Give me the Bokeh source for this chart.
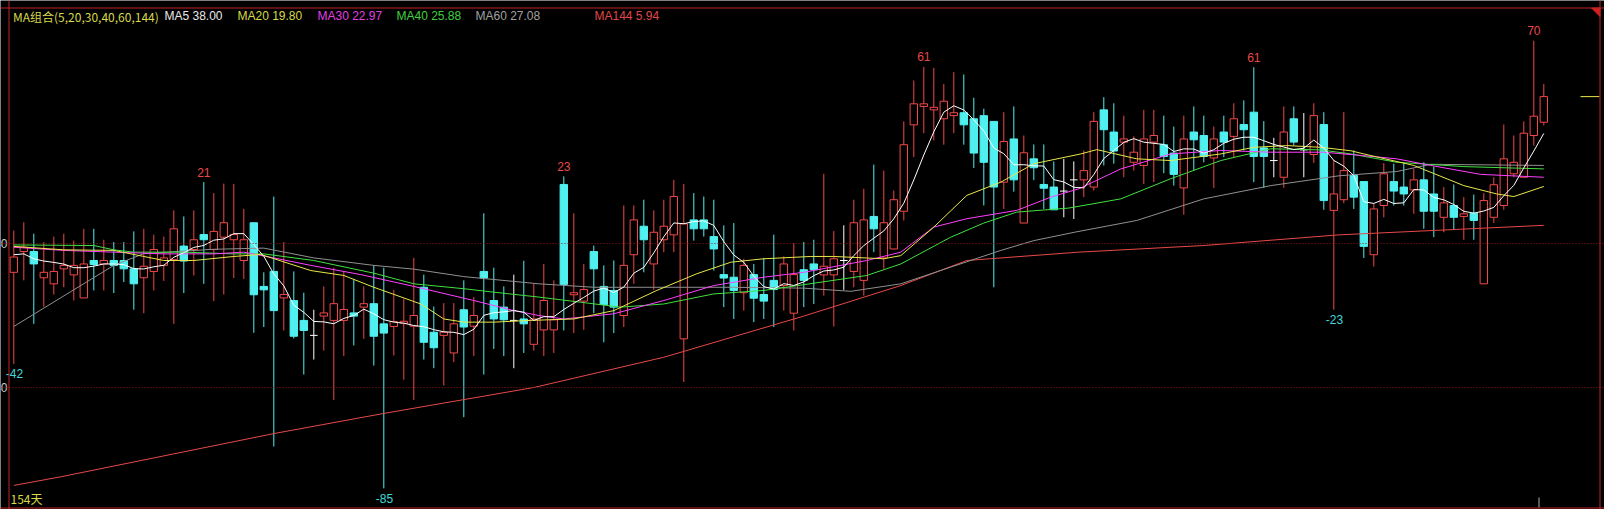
import numpy as np
from bokeh.plotting import figure
from bokeh.models import Range1d, Span, ColumnDataSource
from bokeh.core.properties import value
from bokeh.embed import file_html
from bokeh.resources import INLINE

# ---------------- data ----------------
opens = [-10, -2.8, -2.8, -11.9, -14, -8.8, -10.9, -18.9, -5.9, -7.1,
         -5.9, -5.9, -8.8, -11.9, -9.7, -7.6, -5.6, -0.9, -2.1, 3.1,
         -2.1, 2.2, 1.3, -5.9, 7.2, -14.9, -9.7, -18.9, -19.8, -26.7,
         -31.9, -25.2, -26.7, -26.7, -24.1, -22.1, -20.9, -27.9, -28.8, -27.7,
         -28.7, -15.2, -30.8, -31.9, -38, -23, -28.7, -9.7, -19.8, -22.1,
         -26.7, -26.2, -35, -30, -30, 20.5, -17.8, -20, -2.8, -14.9,
         -16.3, -25, -3.9, 6, -7.1, 1.3, 3, -33.1, 8.2, 8.2,
         2.4, -10.8, -11.7, -17.1, -10.8, -17.7, -12.8, -14.6, -24.2, -9.1,
         -7.1, -10.9, -10.9, -5.9, -9.7, -12.8, 9.4, -5, -1.9, 11.2,
         41.2, 47.6, 46.4, 43.3, 44.4, 45.4, 43.3, 44.4, 42.4, 21.3,
         36.3, 7.1, 29.4, 20.5, 19.6, 18.2, 22.1, 22.1, 19.6, 46.4,
         38.7, 35.2, 28.2, 27.1, 35.2, 34.3, 31.4, 19.3, 38.7, 37.5,
         29.7, 38.7, 37.2, 41.3, 45.6, 33.2, 28.8, 23, 43.3, 32.5,
         30.9, 41.3, 11.5, 15.2, 23.6, 21.5, -3.9, 13.2, 21.5, 19.6,
         18.6, 22.1, 17.2, 9.1, 13.2, 9.4, 10.5, -14, 9.1, 13.2,
         24.2, 23, 37.5, 42.1]
highs = [4.5, 7.4, 3.4, 0.5, 2.4, 3.4, 1, 5.1, 5.1, 1.3,
         0.5, 0.5, 4.2, 5.1, 3.1, 2.4, 11.5, 9.4, 11.5, 21.3,
         17.5, 20.8, 20.7, 12, 7.2, -10, 16.3, 0.5, -9.7, -17.1,
         -23, -14.9, -8.4, -9.7, -12.3, -14.9, -7.6, -8.4, -16.1, -19.2,
         -5, -10.8, -21.9, -20.7, -20.7, -12.8, -18.6, 10.5, -8.4, -14.9,
         -10.8, -6, -14, -7.1, -12.8, 23.3, 10.5, -7.1, -0.7, -7.6,
         -5.9, 13.2, 13.2, 15.2, 11.5, 15.2, 22.1, 20.7, 17.5, 16.3,
         15.2, 6.3, 7.1, -5.3, -7.1, -5, 3.1, -4.5, 0.2, 0.5,
         1.3, 24.2, 4.3, 6.3, 15.2, 19, 27.4, 25.3, 18.4, 42.4,
         56.6, 61.3, 61, 55.4, 59.5, 58.7, 50.6, 46.8, 42.4, 45.6,
         47.6, 37.5, 34.4, 34.4, 28.5, 29.4, 28.5, 32.3, 45.6, 50.8,
         48.7, 44.4, 37.2, 46.4, 46.4, 44.4, 40.6, 44.4, 47.6, 44.4,
         40.6, 44.4, 48.7, 49.7, 61.2, 42.5, 36.7, 47.6, 47.6, 45.3,
         48.7, 45.6, 29, 45.6, 32.3, 21.5, 14, 27.9, 27.7, 27.9,
         25.9, 28.2, 26.7, 19.6, 20.5, 16.1, 17, 17.5, 23, 41.3,
         37.5, 42.4, 70.4, 55.4]
lows = [-41.8, -12.8, -27.9, -22, -17.7, -15.2, -19.8, -18.9, -16.3, -16.3,
        -17.2, -13.4, -23, -24.2, -16.3, -13, -27.9, -17.2, -11.1, -14,
        -20, -17.7, -12, -12.3, -31, -29, -70.5, -30.2, -33, -45.5,
        -40.3, -37.2, -54.3, -39.1, -35.4, -33.1, -42.4, -85, -38.9, -47.3,
        -54.3, -40.3, -43.3, -49.3, -41.2, -60.3, -39.1, -45.5, -36.6, -39.1,
        -43.3, -38, -37.2, -39.1, -38, -30.2, -31.1, -30, -24.2, -34.3,
        -31.1, -29, -14, -10, -16.1, -3, -3, -48.1, 1, 2.4,
        -9.4, -22.1, -26.2, -23.3, -27.3, -26.2, -29, -23.3, -30.2, -22.1,
        -21, -18.1, -28.8, -16.1, -15.2, -18.1, -3, -8.8, -1.9, 8,
        30, 38.3, 35.8, 34.3, 38.3, 34.3, 26.2, 13.2, -15.2, 12,
        18, 7.1, 22, 12, 11.7, 9.1, 8.5, 16.1, 18.4, 27.1,
        27.7, 23, 25.3, 20.7, 21.3, 24.4, 20.1, 10, 25.3, 28.2,
        19.3, 30, 30, 32.3, 21.3, 19.3, 23, 19.3, 34, 23,
        28, 11.7, -23, 14, 12, -5, -8, 9.1, 13.2, 13.2,
        10.3, 5.1, 2.2, 3.9, 4.7, 1.3, 1.3, -14, 7.1, 11.7,
        23, 23, 34, 41]
closes = [-4.7, -1.3, -7.1, -10, -9.7, -7.6, -7.6, -7.1, -7.3, -5.9,
          -7.6, -8.8, -14, -7.9, -2.1, -5, 5.1, -6.1, 1.3, 1.3,
          4.2, 7.2, 3.1, 1.3, -17.8, -16.1, -23.3, -17.7, -32.2, -30.2,
          -31.9, -24.1, -20.9, -22.9, -25.2, -20.9, -32.2, -31.1, -27.1, -27,
          -25, -34.3, -36.2, -30.8, -27.9, -29, -25, -12, -26.2, -26.5,
          -26.7, -27.9, -26.2, -19.8, -26.5, -14.2, -17.1, -16, -8.8, -21.2,
          -22.1, -7.6, 8.2, 1.3, 3.9, 6, 16.3, 6.8, 5.1, 5.1,
          -1.9, -12, -16.3, -7.6, -19, -20, -16, -7.1, -10.8, -12.8,
          -9.1, -7.9, -5.3, -5.9, 7.2, 8.2, 5.1, 7.2, 15.2, 34.3,
          48.5, 48.5, 47.3, 49.4, 45.4, 41.2, 31.4, 28.2, 19.6, 35.4,
          22.1, 31.5, 26.3, 19.2, 11.7, 18.2, 22.1, 25.3, 42.4, 39.5,
          32.1, 36.3, 31.7, 36.3, 37.5, 30.2, 24, 36.3, 36, 30.2,
          36.3, 35.2, 43.3, 39.5, 30.2, 30.2, 28.8, 38.7, 35.2, 32.5,
          44.4, 14.9, 17.2, 25.3, 16.1, -1, 12, 24.2, 18.2, 17.2,
          22.1, 11.2, 11.2, 14.1, 9.1, 10.3, 8, 14.9, 20.4, 29.4,
          28.2, 38.3, 44.2, 51]

# MA5: first four values, the rest is the 5-day mean of the closes
ma5_head = [-3.9, -3.6, -5.3, -6.1]

# longer moving averages, read at sample bars
ma20_i = [0, 5, 10, 13, 15, 18, 22, 24.7, 29.7, 33, 36, 40.7, 43, 45, 48, 51.7, 56, 60, 64.3, 68.3,
          71.7, 75, 79.7, 82, 87, 88.7, 92, 95.3, 98.7, 102, 106.7, 108.3, 112.3, 115.7, 120.7, 124,
          127.3, 130.7, 133.7, 135, 140, 145, 148.3, 150, 153]
ma20_v = [-1, -2.2, -2.4, -4.5, -5.9, -5.9, -4.5, -3.8, -9.4, -11.1, -15.2, -21, -26.2, -27.3, -27.3,
          -26.7, -26.2, -23.3, -16.3, -10.5, -6.5, -5.3, -4.5, -4.5, -5.3, -4.2, 5.7, 16.7, 21.3, 27.7,
          31.1, 32.6, 29.4, 28.8, 31.1, 33.4, 34, 33.4, 32.2, 31.1, 27.1, 20.1, 17.2, 16.3, 19.8]
ma30_i = [0, 5, 10, 15, 20, 23, 26, 29.7, 34.7, 40, 46, 50, 52.5, 55, 60, 65, 70, 75, 79, 85.3,
          88.7, 92, 95.3, 100.3, 103.7, 106.5, 110.7, 115.7, 120.7, 125.7, 131, 135, 138.3, 141.7,
          146.7, 153]
ma30_v = [-1.3, -2.4, -3, -3.6, -3.6, -3, -5, -7.6, -10.8, -14.9, -19.8, -23.3, -25, -26.2, -24.4,
          -19.8, -14.6, -11.7, -10, -5.9, -3, 5.7, 8.6, 11.5, 16.1, 19, 25.9, 31.1, 32.3, 31.7, 31.7,
          30.5, 29.4, 27.1, 24, 23]
ma40_i = [0, 8, 10, 12, 17, 22, 25, 30, 36, 40, 45, 48, 52.5, 56.7, 60.7, 65, 70, 75, 79, 85.3,
          88.7, 93.7, 97, 100.3, 105.5, 110.7, 115.7, 120.7, 125.7, 130.7, 133.7, 138.3, 145, 153]
ma40_v = [-0.5, -0.7, -2.2, -3, -3, -3.6, -3.6, -5.9, -10.3, -14, -15.7, -16.9, -18.6, -20.4, -22.1,
          -21, -17.5, -16.3, -14.3, -11.1, -7.1, 2.2, 7.1, 10.9, 12.3, 15.5, 22.5, 28.8, 32.9, 32.5,
          31.1, 28.2, 26.7, 25.9]
ma60_i = [0, 10, 13, 20, 25, 30, 36, 40, 45, 52.5, 58, 65, 72, 79, 83.7, 88.7, 93.7, 98.7, 102,
          106.2, 112.3, 119, 125.7, 132.5, 138.3, 141.7, 153]
ma60_v = [-28.8, -7.6, -3.5, -2, -1.6, -5, -7.6, -8.9, -11.5, -14, -15.2, -15.2, -15.2, -15.5, -16.6,
          -14, -8.2, -2.4, 1, 4, 8, 15.5, 20.1, 23.5, 25, 27.5, 27.1]
ma144_i = [0, 4.7, 26, 37, 52, 65, 79, 88.7, 95.3, 106.5, 119, 132.5, 153]
ma144_v = [-84, -81, -66, -59, -50, -39.5, -25.2, -14.6, -5.9, -3, -0.7, 3, 6.3]

legend_texts = ["MA组合(5,20,30,40,60,144)", "MA5 38.00", "MA20 19.80", "MA30 22.97",
                "MA40 25.88", "MA60 27.08", "MA144 5.94"]
legend_colors = ["#d8d848", "#e8e8e8", "#d8d848", "#e040e0", "#40d040", "#a0a0a0", "#e04848"]
legend_px = [12.5, 164, 237, 317, 396, 475, 594]

hi_label_idx = [19, 55, 91, 124, 152]
lo_label_idx = [0, 37, 132]
days_text = "154天"
grid_levels = [0, -50]
grid_tick_text = ["0", "0"]

# ---------------- styling / pixel mapping ----------------
RED = "#f04848"
CYAN = "#50f0f0"
WHITE = "#ffffff"
BORDER = "#c02424"
W, H = 1604, 509
X0, X1 = -1.33, 159.07
Y0, Y1 = -92.36, 84.375


def px_to_x(fx):
    return X0 + fx * (X1 - X0) / W


def py_to_y(fy):
    return Y1 - fy * (Y1 - Y0) / H


o = np.array(opens, float)
h = np.array(highs, float)
l = np.array(lows, float)
c = np.array(closes, float)
idx = np.arange(len(c))

up = c > o
dn = c < o
flat = c == o
col = np.where(up, RED, np.where(dn, CYAN, WHITE))
fill = np.where(up, "black", CYAN)

p = figure(width=W, height=H, x_range=Range1d(X0, X1), y_range=Range1d(Y0, Y1),
           output_backend="svg", toolbar_location=None,
           x_axis_location=None, y_axis_location=None,
           background_fill_color="black", border_fill_color="black", min_border=0)
p.grid.visible = False
p.outline_line_color = None

for lv in grid_levels:
    p.add_layout(Span(location=lv, dimension="width", line_color="#8c1c1c",
                      line_dash="1 2", line_width=1))

# panel borders
p.add_layout(Span(location=px_to_x(8.5), dimension="height", line_color=BORDER, line_width=1))
p.add_layout(Span(location=px_to_x(1599.5), dimension="height", line_color=BORDER, line_width=1))
p.add_layout(Span(location=py_to_y(7.5), dimension="width", line_color=BORDER, line_width=1))
p.add_layout(Span(location=py_to_y(507.5), dimension="width", line_color=BORDER, line_width=1))

# wicks
p.segment(x0=idx, y0=l, x1=idx, y1=h, line_color=list(col), line_width=1)

# bodies
m = ~flat
body = ColumnDataSource(dict(x=idx[m], top=np.maximum(o, c)[m], bottom=np.minimum(o, c)[m],
                             lc=col[m], fc=fill[m]))
p.vbar(x="x", top="top", bottom="bottom", width=0.74, source=body,
       line_color="lc", fill_color="fc", line_width=1)

# doji crosses
p.segment(x0=idx[flat] - 0.38, x1=idx[flat] + 0.38, y0=c[flat], y1=c[flat],
          line_color=WHITE, line_width=1)

# moving averages
ma5 = list(ma5_head) + list(np.convolve(c, np.ones(5) / 5, mode="valid"))
p.line(ma144_i, ma144_v, line_color="#e84848", line_width=1)
p.line(ma60_i, ma60_v, line_color="#909090", line_width=1)
p.line(ma40_i, ma40_v, line_color="#40e040", line_width=1)
p.line(ma30_i, ma30_v, line_color="#ff40ff", line_width=1)
p.line(ma20_i, ma20_v, line_color="#e8e848", line_width=1)
p.line(idx, ma5, line_color="#ffffff", line_width=1)

FONT = value("Liberation Sans")

# extreme labels
p.text(x=hi_label_idx, y=[h[i] + 3.5 for i in hi_label_idx],
       text=[str(int(round(h[i]))) for i in hi_label_idx],
       text_color="#e84848", text_font=FONT, text_font_size="12px",
       text_align="center", text_baseline="middle")
p.text(x=lo_label_idx, y=[l[i] - 3.5 for i in lo_label_idx],
       text=[str(int(round(l[i]))) for i in lo_label_idx],
       text_color="#40d8d8", text_font=FONT, text_font_size="12px",
       text_align="left", text_baseline="middle", x_offset=-8)

# left scale labels (only last digit visible in the panel)
p.text(x=[px_to_x(7)] * len(grid_levels), y=grid_levels, text=grid_tick_text,
       text_color="#c8c8c8", text_font=FONT, text_font_size="12px",
       text_align="right", text_baseline="middle")

# legend row
ly = py_to_y(15.6)
for k, (t, cl, fx) in enumerate(zip(legend_texts, legend_colors, legend_px)):
    p.text(x=[px_to_x(fx)], y=[ly], text=[t], text_color=cl,
           text_font=value("Noto Sans CJK SC") if k == 0 else FONT,
           text_font_size="12px", text_align="left", text_baseline="middle")

# day count
p.text(x=[px_to_x(10)], y=[py_to_y(498)], text=[days_text], text_color="#d8d848",
       text_font=value("Noto Sans CJK SC"), text_font_size="12px",
       text_align="left", text_baseline="middle")

# last-price marker at right
p.segment(x0=[px_to_x(1580)], x1=[px_to_x(1599)], y0=[c[-1]], y1=[c[-1]],
          line_color="#e8e848", line_width=1)
# corner triangle
p.patch(x=[px_to_x(1591), px_to_x(1599.5), px_to_x(1599.5)],
        y=[py_to_y(7.5), py_to_y(7.5), py_to_y(16)],
        fill_color="#d02020", line_color="#d02020")
# bottom cursor tick
p.segment(x0=[px_to_x(1538.5)], x1=[px_to_x(1538.5)], y0=[py_to_y(497)], y1=[py_to_y(507)],
          line_color="#b0b0b0", line_width=1)

open("out.html", "w").write(file_html(p, INLINE))
